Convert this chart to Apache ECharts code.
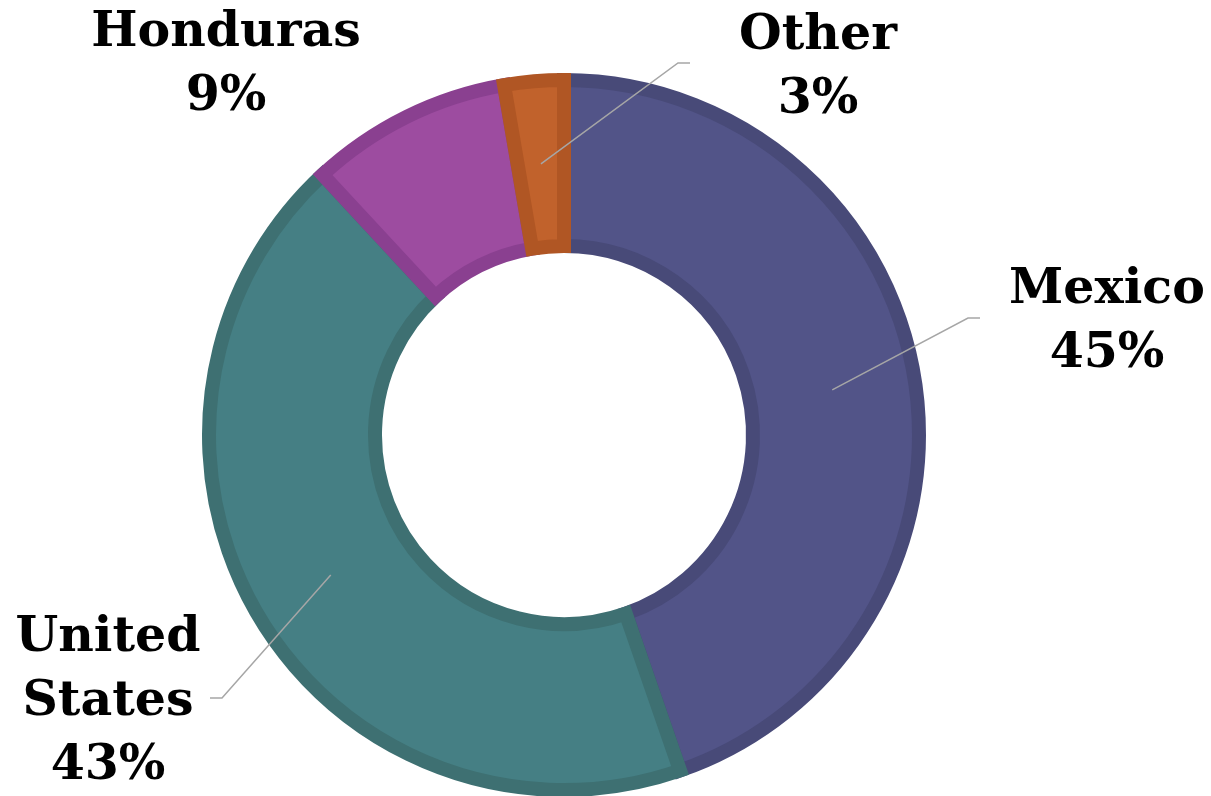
<!DOCTYPE html>
<html>
<head>
<meta charset="utf-8">
<script src="https://cdn.jsdelivr.net/npm/echarts@6/dist/echarts.min.js"></script>
<style>
  html, body { margin: 0; padding: 0; background: #ffffff; }
  #chart { width: 1211px; height: 796px; }
</style>
</head>
<body>
<div id="chart"></div>
<script>
// ---- data ----
const categories = ['Mexico', 'United States', 'Honduras', 'Other'];
const labelNames = ['Mexico', 'United\nStates', 'Honduras', 'Other'];
const values = [44.7, 43.4, 9.2, 2.7];

// ---- styles ----
const fillColors = ['#525488', '#457f84', '#9d4ca0', '#c1622c'];
const borderColors = ['#484a78', '#3e7072', '#8a4090', '#b05624'];

// ---- label layout (text anchor, leader line knee & end) ----
const labelLayouts = [
  { x: 1107, y: 322, knee: [968, 318], end: [980, 318], line: true },
  { x: 108, y: 702, knee: [222, 698], end: [210, 698], line: true },
  { x: 226, y: 65, line: false },
  { x: 818, y: 68, knee: [678, 63], end: [690, 63], line: true }
];

const chart = echarts.init(document.getElementById('chart'), null, { renderer: 'canvas' });

const ringData = categories.map((c, i) => ({
  name: c,
  value: values[i],
  itemStyle: { color: fillColors[i], borderColor: borderColors[i] }
}));

const labelData = categories.map((c, i) => ({
  name: c,
  value: values[i],
  labelLine: { show: labelLayouts[i].line }
}));

chart.setOption({
  backgroundColor: '#ffffff',
  animation: false,
  series: [
    {
      type: 'pie',
      z: 2,
      center: [564, 435],
      radius: [189, 355],
      startAngle: 90,
      clockwise: true,
      silent: true,
      itemStyle: { borderWidth: 14, borderJoin: 'miter', borderMiterLimit: 20 },
      label: { show: false },
      labelLine: { show: false },
      data: ringData
    },
    {
      type: 'pie',
      z: 5,
      center: [564, 435],
      radius: [0, 272],
      startAngle: 90,
      clockwise: true,
      silent: true,
      percentPrecision: 0,
      avoidLabelOverlap: false,
      itemStyle: { color: 'rgba(0,0,0,0)' },
      label: {
        show: true,
        position: 'outside',
        formatter: (p) => labelNames[p.dataIndex] + '\n' + p.percent + '%',
        fontFamily: 'DejaVu Serif',
        fontWeight: 'bold',
        fontSize: 49,
        lineHeight: 64,
        color: '#000000',
        align: 'center'
      },
      labelLine: {
        show: true,
        length: 20,
        length2: 12,
        lineStyle: { color: '#a6a6a6', width: 1.5 }
      },
      labelLayout: function (params) {
        const L = labelLayouts[params.dataIndex];
        const out = { x: L.x, y: L.y, align: 'center', verticalAlign: 'middle' };
        if (L.line && params.labelLinePoints) {
          out.labelLinePoints = [params.labelLinePoints[0], L.knee, L.end];
        }
        return out;
      },
      data: labelData
    }
  ]
});
</script>
</body>
</html>
